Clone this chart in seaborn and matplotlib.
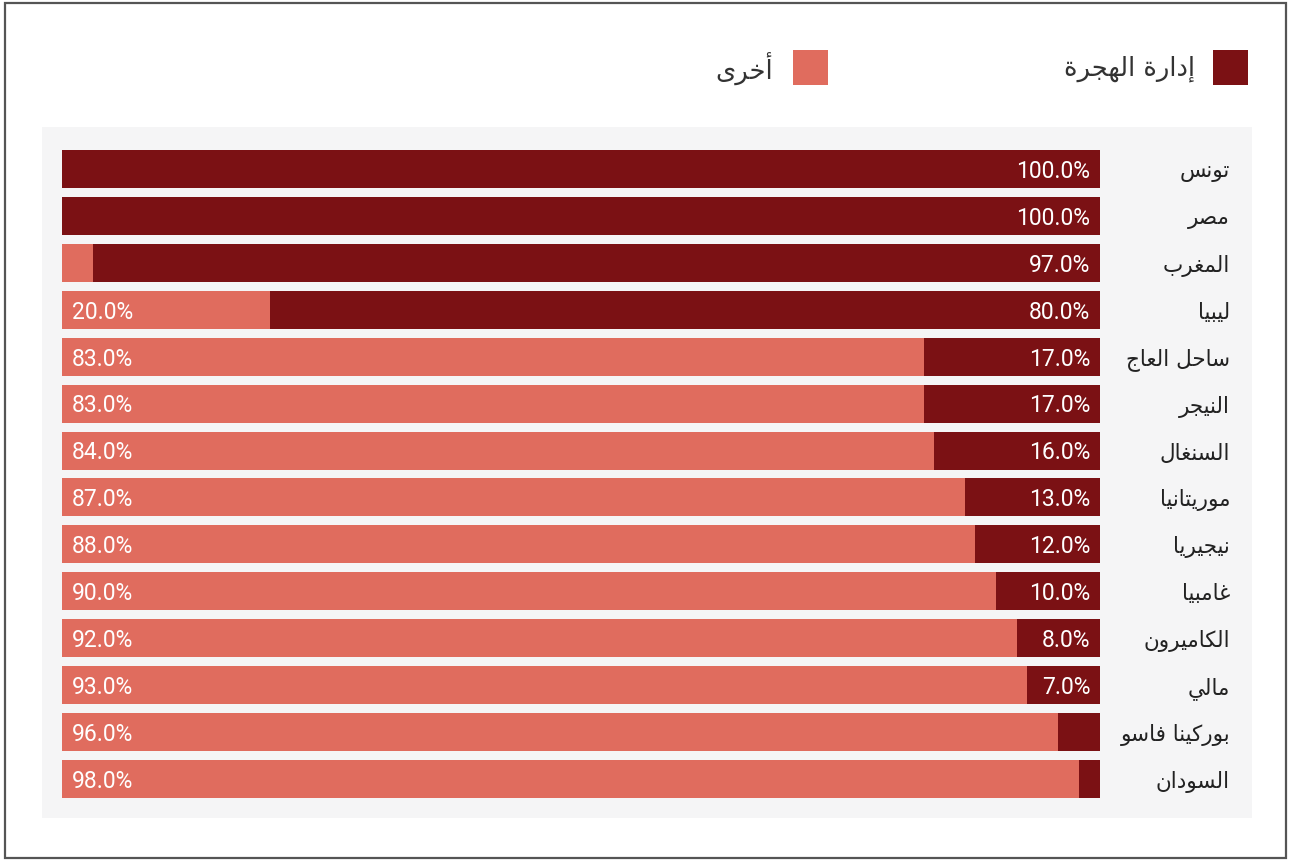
import matplotlib
matplotlib.use("Agg")
import matplotlib.pyplot as plt
from matplotlib.patches import Rectangle
import seaborn as sns
import pandas as pd

# Data
countries = ["تونس", "مصر", "المغرب", "ليبيا", "ساحل العاج", "النيجر", "السنغال",
             "موريتانيا", "نيجيريا", "غامبيا", "الكاميرون", "مالي", "بوركينا فاسو", "السودان"]
migration = [100, 100, 97, 80, 17, 17, 16, 13, 12, 10, 8, 7, 4, 2]
other = [0, 0, 3, 20, 83, 83, 84, 87, 88, 90, 92, 93, 96, 98]
series_names = ["إدارة الهجرة", "أخرى"]

DARK = "#7b1114"
LIGHT = "#e06c5e"
PANEL = "#f5f5f6"

# minimal arabic shaping: (isolated form, joins to next letter?)
FORMS = {
    "ا": (0xFE8D, False), "أ": (0xFE83, False), "إ": (0xFE87, False),
    "ب": (0xFE8F, True), "ة": (0xFE93, False), "ت": (0xFE95, True),
    "ج": (0xFE9D, True), "ح": (0xFEA1, True), "خ": (0xFEA5, True),
    "د": (0xFEA9, False), "ر": (0xFEAD, False), "س": (0xFEB1, True),
    "ص": (0xFEB9, True), "ع": (0xFEC9, True), "غ": (0xFECD, True),
    "ف": (0xFED1, True), "ك": (0xFED9, True), "ل": (0xFEDD, True),
    "م": (0xFEE1, True), "ن": (0xFEE5, True), "ه": (0xFEE9, True),
    "و": (0xFEED, False), "ى": (0xFEEF, False), "ي": (0xFEF1, True),
}


def ar(text):
    out = []
    for i, ch in enumerate(text):
        if ch not in FORMS:
            out.append(ch)
            continue
        base, dual = FORMS[ch]
        prev = text[i - 1] if i > 0 else ""
        nxt = text[i + 1] if i + 1 < len(text) else ""
        join_prev = prev in FORMS and FORMS[prev][1]
        join_next = dual and nxt in FORMS
        if join_prev and join_next:
            code = base + 3
        elif join_next:
            code = base + 2
        elif join_prev:
            code = base + 1
        else:
            code = base
        out.append(chr(code))
    return "".join(out)[::-1]


sns.set_theme(style="white")
plt.rcParams["font.family"] = ["Roboto", "DejaVu Sans"]

df = pd.DataFrame({"country": countries, "migration": migration, "other": other})
df["total"] = df["migration"] + df["other"]

W, H = 1290, 860
fig = plt.figure(figsize=(W / 100, H / 100), dpi=100)
fig.patch.set_facecolor("white")

# outer border and grey panel
fig.add_artist(Rectangle((4.5 / W, 2.5 / H), 1281 / W, 855 / H, transform=fig.transFigure,
                         facecolor="none", edgecolor="#555555", lw=1.6))
fig.add_artist(Rectangle((42 / W, 1 - 818 / H), 1210 / W, 691 / H, transform=fig.transFigure,
                         facecolor=PANEL, edgecolor="none", zorder=0))

ax = fig.add_axes([62 / W, 1 - 818 / H, 1038 / W, 691 / H])
ax.set_facecolor("none")

sns.barplot(data=df, y="country", x="total", color=DARK, orient="h", width=0.81,
            saturation=1, linewidth=0, ax=ax)
sns.barplot(data=df, y="country", x="other", color=LIGHT, orient="h", width=0.81,
            saturation=1, linewidth=0, ax=ax)

ax.set_xlim(0, 100)
ax.set_ylim(13.83, -0.895)
ax.set_xlabel("")
ax.set_ylabel("")
ax.set_xticks([])
ax.set_yticks([])
for s in ax.spines.values():
    s.set_visible(False)

for i, row in df.iterrows():
    if row["migration"] >= 5:
        ax.text(99.05, i + 0.05, f"{row['migration']:.1f}%", ha="right", va="center",
                color="white", fontsize=16.5)
    if row["other"] >= 5:
        ax.text(0.95, i + 0.05, f"{row['other']:.1f}%", ha="left", va="center",
                color="white", fontsize=16.5)
    ax.text(1230 / W, 1 - (172 + 46.92 * i) / H, ar(row["country"]), transform=fig.transFigure,
            ha="right", va="center", color="#222222", fontsize=15.5,
            family=["DejaVu Sans"])

# legend
legend_items = [(1213, DARK, series_names[0], 1195), (793, LIGHT, series_names[1], 773)]
for x0, col, name, tx in legend_items:
    fig.add_artist(Rectangle((x0 / W, 1 - 85 / H), 35 / W, 35 / H, transform=fig.transFigure,
                             facecolor=col, edgecolor="none"))
    fig.text(tx / W, 1 - 69 / H, ar(name), ha="right", va="center", color="#333333",
             fontsize=18.5, family=["DejaVu Sans"])

fig.savefig("out.png", dpi=100)
